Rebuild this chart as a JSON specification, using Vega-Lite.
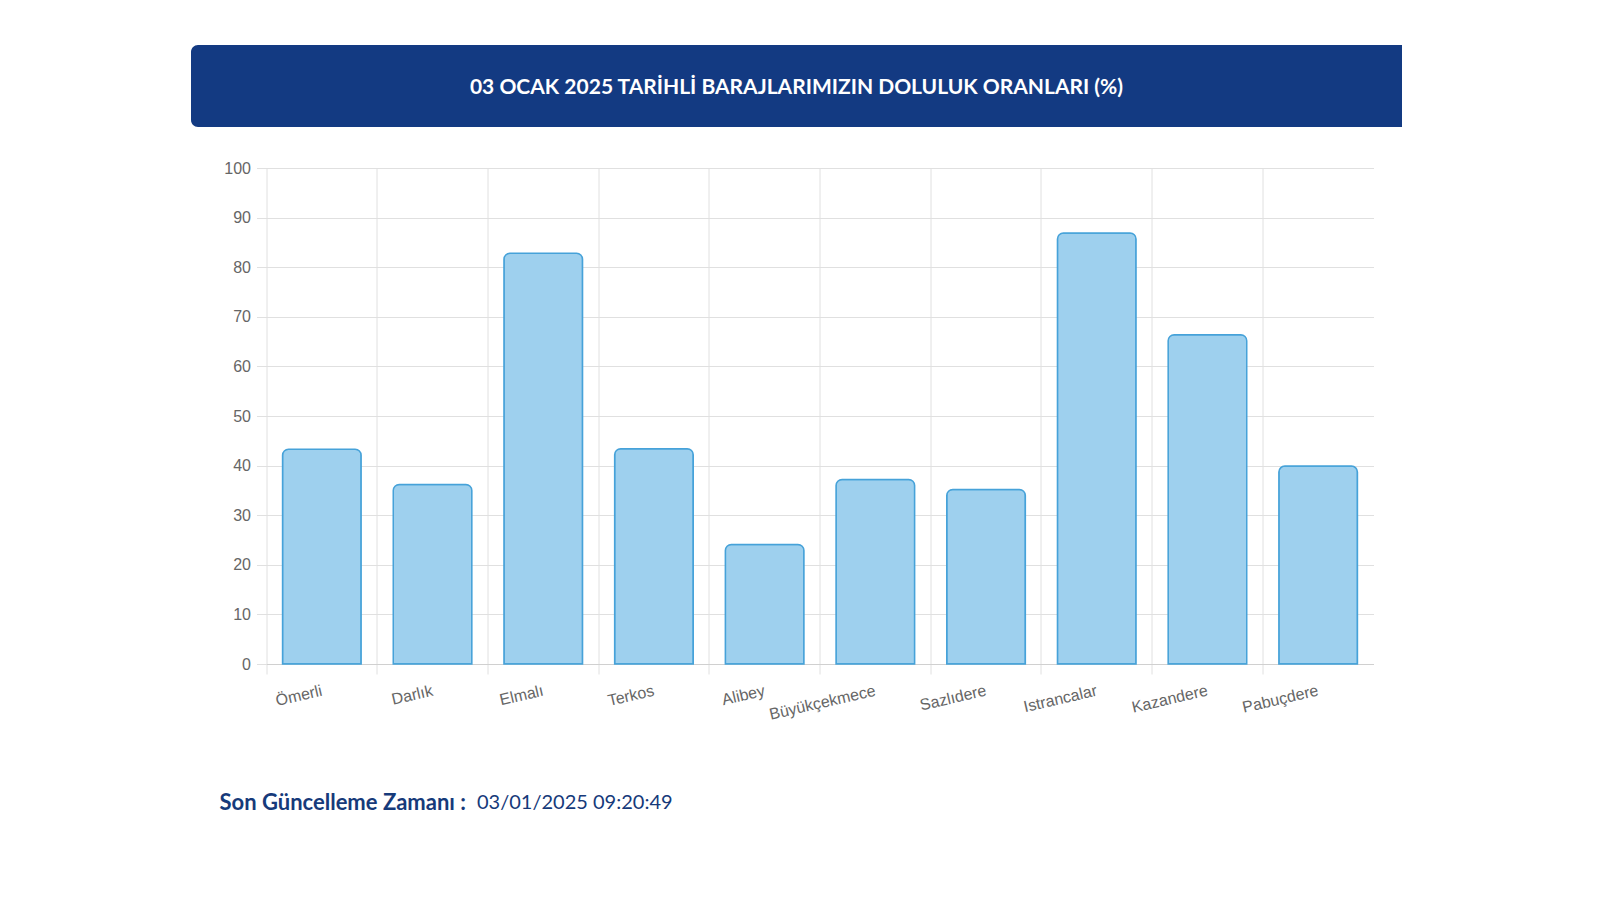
{
  "$schema": "https://vega.github.io/schema/vega-lite/v6.json",
  "usermeta": {"embedOptions": {"actions": false}},
  "background": "white",
  "padding": {"left": 191, "top": 45, "right": 150, "bottom": 10},
  "autosize": {"type": "pad"},
  "spacing": 33,
  "center": true,
  "config": {"view": {"stroke": null}},
  "vconcat": [
    {
      "width": 1258,
      "height": 82,
      "view": {
        "fill": {"gradient": "linear", "x1": 0, "x2": 1, "y1": 0, "y2": 0, "stops": [
          {"offset": 0, "color": "#133a82"},
          {"offset": 0.9626, "color": "#133a82"},
          {"offset": 0.9627, "color": "#ffffff"},
          {"offset": 1, "color": "#ffffff"}
        ]},
        "stroke": null, "cornerRadius": 7
      },
      "data": {"values": [{"baslik": "03 OCAK 2025 TARİHLİ BARAJLARIMIZIN DOLULUK ORANLARI (%)"}]},
      "mark": {"type": "text", "font": "Lato", "fontSize": 21, "fontWeight": "bold", "color": "white", "align": "center", "baseline": "middle", "dx": -23.5, "dy": 2},
      "encoding": {"text": {"field": "baslik", "type": "nominal"}}
    },
    {
      "width": 1107,
      "height": 496,
      "data": {"values": [
        {"baraj": "Ömerli", "doluluk": 43.3},
        {"baraj": "Darlık", "doluluk": 36.2},
        {"baraj": "Elmalı", "doluluk": 82.8},
        {"baraj": "Terkos", "doluluk": 43.4},
        {"baraj": "Alibey", "doluluk": 24.1},
        {"baraj": "Büyükçekmece", "doluluk": 37.2},
        {"baraj": "Sazlıdere", "doluluk": 35.2},
        {"baraj": "Istrancalar", "doluluk": 86.9},
        {"baraj": "Kazandere", "doluluk": 66.4},
        {"baraj": "Pabuçdere", "doluluk": 39.9}
      ]},
      "mark": {"type": "bar", "width": {"band": 0.71}, "fill": "#9ed0ee", "stroke": "#46a2d9", "strokeWidth": 1.5, "cornerRadiusTopLeft": 6, "cornerRadiusTopRight": 6},
      "encoding": {
        "x": {
          "field": "baraj", "type": "nominal", "sort": null,
          "scale": {"paddingInner": 0, "paddingOuter": 0},
          "axis": {
            "bandPosition": 0,
            "grid": true, "gridColor": "#e0e0e0", "gridWidth": 1,
            "ticks": true, "tickSize": 10, "tickColor": "#e0e0e0",
            "domain": true, "domainColor": "#d0d0d0",
            "labelAngle": -13, "labelAlign": "right", "labelBaseline": "middle",
            "labelPadding": 16, "labelFont": "Liberation Sans", "labelFontSize": 16, "labelColor": "#666666",
            "labelOverlap": false, "labelFlush": false, "labelBound": false,
            "title": "Son Güncelleme Zamanı :",
            "titleX": -47.5, "titleY": 138, "titleAlign": "left", "titleAnchor": "start", "titleBaseline": "middle",
            "titleFont": "Lato", "titleFontSize": 22, "titleFontWeight": "bold", "titleColor": "#163a7a"
          }
        },
        "y": {
          "field": "doluluk", "type": "quantitative",
          "scale": {"domain": [0, 100], "nice": false},
          "axis": {
            "values": [0, 10, 20, 30, 40, 50, 60, 70, 80, 90, 100],
            "grid": true, "gridColor": "#e0e0e0", "gridWidth": 1,
            "domain": false,
            "ticks": true, "tickSize": 10, "tickColor": "#e0e0e0",
            "labelPadding": 6, "labelFont": "Liberation Sans", "labelFontSize": 16, "labelColor": "#666666",
            "title": "03/01/2025 09:20:49",
            "titleAngle": 0, "titleX": 210, "titleY": 634, "titleAlign": "left", "titleAnchor": "start", "titleBaseline": "middle",
            "titleFont": "Lato", "titleFontSize": 20, "titleFontWeight": "normal", "titleColor": "#163a7a"
          }
        }
      }
    }
  ]
}
